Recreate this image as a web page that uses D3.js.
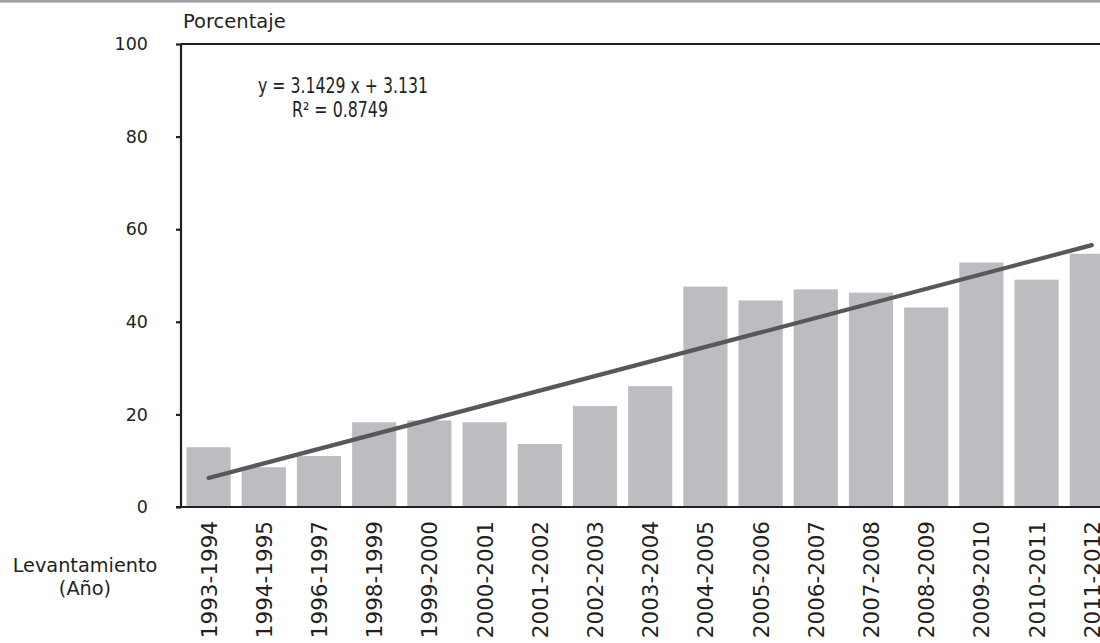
<!DOCTYPE html>
<html>
<head>
<meta charset="utf-8">
<script src="https://cdn.jsdelivr.net/npm/d3@7"></script>
<style>
  html, body { margin: 0; padding: 0; background: #fff; }
  svg { display: block; }
  text { fill: #231f20; font-family: "DejaVu Sans", sans-serif; }
</style>
</head>
<body>
<svg id="chart" width="1100" height="643"></svg>
<script>
// Survey rounds (Levantamiento) and percentage for each
const categories = ["1993-1994", "1994-1995", "1996-1997", "1998-1999", "1999-2000",
  "2000-2001", "2001-2002", "2002-2003", "2003-2004", "2004-2005", "2005-2006",
  "2006-2007", "2007-2008", "2008-2009", "2009-2010", "2010-2011", "2011-2012"];
const values = [12.9, 8.6, 11.0, 18.3, 18.7, 18.3, 13.6, 21.8, 26.1, 47.6, 44.6,
  47.0, 46.3, 43.1, 52.8, 49.1, 54.7];
const yTicks = [0, 20, 40, 60, 80, 100];

// Linear trend fitted over the round index (1..n)
const trendSlope = 3.1429;
const trendIntercept = 3.131;
const trendLabel = ["y = 3.1429 x + 3.131", "R² = 0.8749"];

const svg = d3.select("#chart");
const plotLeft = 181, plotTop = 44, plotBottom = 507;

const x = d3.scaleBand()
  .domain(categories)
  .range([plotLeft, plotLeft + categories.length * 55.2])
  .paddingInner(0.2)
  .paddingOuter(0.1);

const y = d3.scaleLinear().domain([0, 100]).range([plotBottom, plotTop]);

// thin grey rule along the top edge
svg.append("rect").attr("x", 0).attr("y", 0).attr("width", 1100).attr("height", 2.6)
  .attr("fill", "#9d9ea1");

// bars
svg.append("g").selectAll("rect")
  .data(values)
  .join("rect")
  .attr("x", (d, i) => x(categories[i]))
  .attr("width", x.bandwidth())
  .attr("y", d => y(d))
  .attr("height", d => y(0) - y(d))
  .attr("fill", "#bcbdc0");

// trend line
const trendPts = categories.map((c, i) => [x(c) + x.bandwidth() / 2, y(trendSlope * (i + 1) + trendIntercept)]);
svg.append("path")
  .attr("d", d3.line()([trendPts[0], trendPts[trendPts.length - 1]]))
  .attr("stroke", "#58585a")
  .attr("stroke-width", 4.2)
  .attr("stroke-linecap", "round")
  .attr("fill", "none");

// top frame line
svg.append("line")
  .attr("x1", plotLeft).attr("x2", 1100).attr("y1", plotTop).attr("y2", plotTop)
  .attr("stroke", "#231f20").attr("stroke-width", 2.2);

// y axis
const yAxis = svg.append("g")
  .attr("transform", `translate(${plotLeft},0)`)
  .call(d3.axisLeft(y).tickValues(yTicks).tickSize(5).tickPadding(28).tickFormat(d3.format("d")));
yAxis.select(".domain").attr("stroke", "#231f20").attr("stroke-width", 2.2)
  .attr("d", `M0,${plotTop}V${plotBottom}`);
yAxis.selectAll(".tick line").attr("stroke", "#231f20").attr("stroke-width", 2.2);
yAxis.selectAll(".tick text").attr("font-size", 17.5).attr("font-family", "DejaVu Sans").attr("fill", "#231f20");

// x axis baseline and rotated labels
const xAxis = svg.append("g")
  .attr("transform", `translate(0,${plotBottom})`)
  .call(d3.axisBottom(x).tickSize(0).tickPadding(0));
xAxis.select(".domain").attr("stroke", "#231f20").attr("stroke-width", 2.2)
  .attr("d", `M${plotLeft - 5},0H1100`);
xAxis.selectAll(".tick text")
  .attr("font-size", 21.5)
  .attr("font-family", "DejaVu Sans")
  .attr("fill", "#231f20")
  .attr("text-anchor", "end")
  .attr("dy", null)
  .attr("transform", "translate(8,14) rotate(-90)")
  .attr("x", 0).attr("y", 0);

// axis titles
svg.append("text").attr("x", 183).attr("y", 28).attr("font-size", 19.5).text("Porcentaje");
svg.append("text").attr("x", 85).attr("y", 572).attr("font-size", 19.3).attr("text-anchor", "middle").text("Levantamiento");
svg.append("text").attr("x", 85).attr("y", 595).attr("font-size", 19.3).attr("text-anchor", "middle").text("(Año)");

// trend equation, set in a condensed face
const eq = svg.append("g")
  .attr("font-family", "'DejaVu Sans Condensed', 'DejaVu Sans', sans-serif")
  .attr("font-size", 20.5);
eq.append("text").attr("x", 258).attr("y", 93)
  .attr("textLength", 170).attr("lengthAdjust", "spacingAndGlyphs").text(trendLabel[0]);
eq.append("text").attr("x", 292).attr("y", 117)
  .attr("textLength", 96).attr("lengthAdjust", "spacingAndGlyphs").text(trendLabel[1]);
</script>
</body>
</html>
